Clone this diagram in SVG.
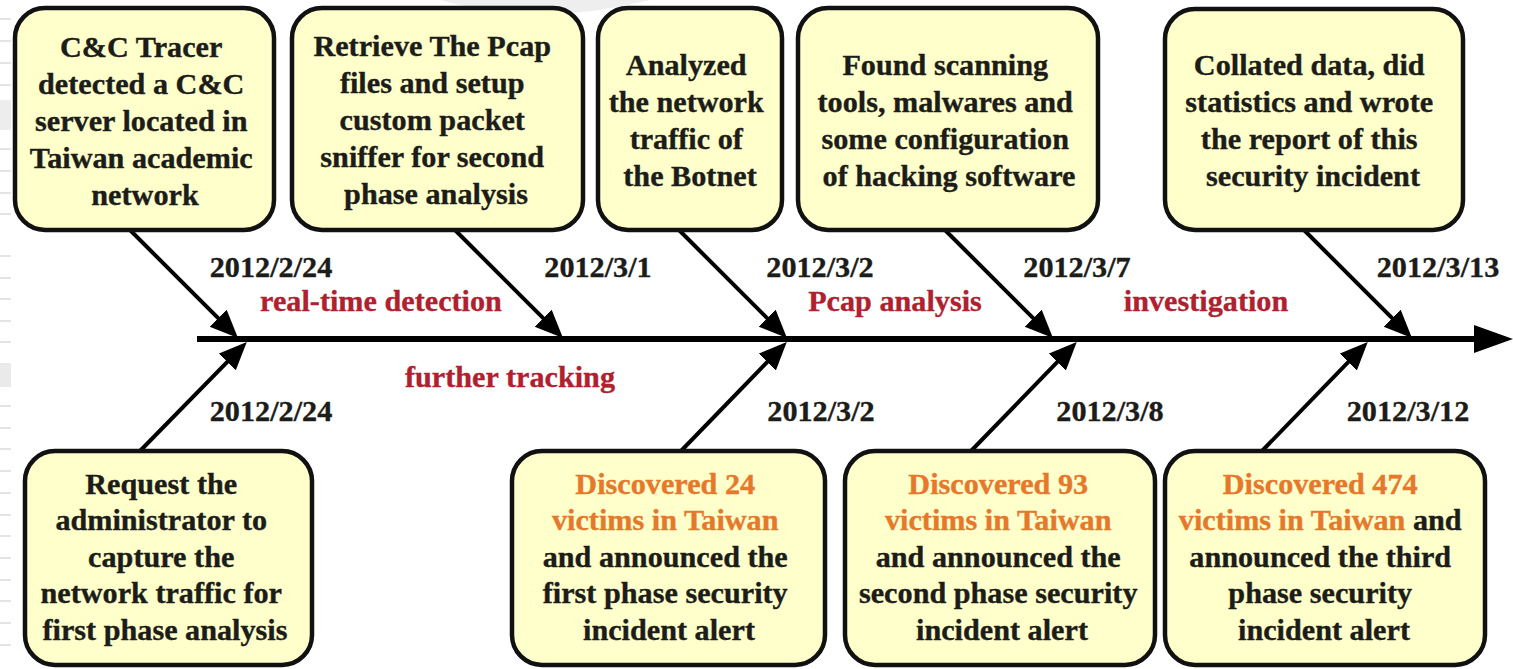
<svg xmlns="http://www.w3.org/2000/svg" width="1513" height="669" viewBox="0 0 1513 669">
  <style>
    .box { fill: #ffffcc; stroke: #111; stroke-width: 4.5; }
    .t { font-family: "Liberation Serif", "Times New Roman", serif; font-weight: bold; font-size: 28.5px; fill: #1c1c18; stroke: #1c1c18; stroke-width: 0.35; text-anchor: middle; }
    .o { fill: #e6782c; stroke: #e6782c; }
    .red { font-family: "Liberation Serif", "Times New Roman", serif; font-weight: bold; font-size: 28.5px; fill: #b0202e; stroke: #b0202e; stroke-width: 0.3; text-anchor: middle; }
    .date { font-family: "Liberation Serif", "Times New Roman", serif; font-weight: bold; font-size: 28.5px; fill: #1c1c18; stroke: #1c1c18; stroke-width: 0.35; text-anchor: middle; }
    .diag { stroke: #000; stroke-width: 4; fill: none; marker-end: url(#head); }
    .stripe { fill: #e4e4e4; }
  </style>
  <defs>
    <marker id="head" markerUnits="userSpaceOnUse" markerWidth="30" markerHeight="26" refX="18" refY="12" orient="auto">
      <path d="M0,0 L28,12 L0,24 z" fill="#000"/>
    </marker>
  </defs>

  <rect width="1513" height="669" fill="#fff"/>

  <!-- faint slide background at the left edge -->
  <g id="backdrop">
    <rect class="stripe" x="0" y="18" width="11" height="2"/>
    <rect class="stripe" x="0" y="40" width="11" height="2"/>
    <rect class="stripe" x="0" y="62" width="11" height="2"/>
    <rect class="stripe" x="0" y="84" width="11" height="2"/>
    <rect x="0" y="100" width="11" height="30" fill="#ededed"/>
    <rect class="stripe" x="0" y="148" width="11" height="2"/>
    <rect class="stripe" x="0" y="170" width="11" height="2"/>
    <rect class="stripe" x="0" y="192" width="11" height="2"/>
    <rect class="stripe" x="0" y="213" width="11" height="2"/>
    <rect class="stripe" x="0" y="255" width="11" height="2"/>
    <rect class="stripe" x="0" y="277" width="11" height="2"/>
    <rect class="stripe" x="0" y="298" width="11" height="2"/>
    <rect class="stripe" x="0" y="320" width="11" height="2"/>
    <rect class="stripe" x="0" y="341" width="11" height="2"/>
    <rect x="0" y="363" width="11" height="24" fill="#eaeaea"/>
    <rect class="stripe" x="0" y="405" width="11" height="2"/>
    <rect class="stripe" x="0" y="427" width="11" height="2"/>
    <rect class="stripe" x="0" y="448" width="11" height="2"/>
    <rect class="stripe" x="0" y="470" width="11" height="2"/>
    <rect class="stripe" x="0" y="492" width="11" height="2"/>
    <rect class="stripe" x="0" y="514" width="11" height="2"/>
    <rect class="stripe" x="0" y="535" width="11" height="2"/>
    <rect class="stripe" x="0" y="557" width="11" height="2"/>
    <rect class="stripe" x="0" y="579" width="11" height="2"/>
    <rect class="stripe" x="0" y="600" width="11" height="2"/>
    <rect class="stripe" x="0" y="622" width="11" height="2"/>
    <rect class="stripe" x="0" y="644" width="11" height="2"/>
    <path d="M440,0 Q540,28 650,0 Z" fill="#eeeeee"/>
  </g>

  <!-- timeline and connectors -->
  <g id="connectors">
    <line x1="197" y1="339" x2="1480" y2="339" stroke="#000" stroke-width="6"/>
    <polygon points="1474,325 1513,339 1474,353" fill="#000"/>

    <line class="diag" x1="130" y1="230" x2="230.9" y2="330.9"/>
    <line class="diag" x1="455" y1="230" x2="555.9" y2="330.9"/>
    <line class="diag" x1="679" y1="230" x2="779.9" y2="330.9"/>
    <line class="diag" x1="945" y1="230" x2="1045.9" y2="330.9"/>
    <line class="diag" x1="1304" y1="230" x2="1404.9" y2="330.9"/>

    <line class="diag" x1="140" y1="451" x2="239.8" y2="349.1"/>
    <line class="diag" x1="681" y1="451" x2="779.8" y2="349.1"/>
    <line class="diag" x1="971" y1="451" x2="1069.8" y2="349.1"/>
    <line class="diag" x1="1262" y1="451" x2="1360.8" y2="349.1"/>
  </g>

  <!-- dates -->
  <g id="dates">
    <text class="date" transform="translate(271 277) scale(1.06 1)">2012/2/24</text>
    <text class="date" transform="translate(598 277) scale(1.06 1)">2012/3/1</text>
    <text class="date" transform="translate(820 277) scale(1.06 1)">2012/3/2</text>
    <text class="date" transform="translate(1077 277) scale(1.06 1)">2012/3/7</text>
    <text class="date" transform="translate(1438 277) scale(1.06 1)">2012/3/13</text>
    <text class="date" transform="translate(271 421) scale(1.06 1)">2012/2/24</text>
    <text class="date" transform="translate(821 421) scale(1.06 1)">2012/3/2</text>
    <text class="date" transform="translate(1110 421) scale(1.06 1)">2012/3/8</text>
    <text class="date" transform="translate(1408 421) scale(1.06 1)">2012/3/12</text>
  </g>

  <!-- phase labels -->
  <g id="phases">
    <text class="red" transform="translate(381 311) scale(1.06 1)">real-time detection</text>
    <text class="red" transform="translate(510 387) scale(1.06 1)">further tracking</text>
    <text class="red" transform="translate(895 311) scale(1.06 1)">Pcap analysis</text>
    <text class="red" transform="translate(1206 311) scale(1.06 1)">investigation</text>
  </g>

  <!-- upper events -->
  <g id="n1">
    <rect class="box" x="15" y="8" width="259" height="222" rx="30"/>
    <text class="t" transform="translate(145 0) scale(1.06 1)">
      <tspan x="0" y="57">C&amp;C Tracer</tspan>
      <tspan x="0" y="94">detected a C&amp;C</tspan>
      <tspan x="0" y="131">server located in</tspan>
      <tspan x="0" y="168">Taiwan academic</tspan>
      <tspan x="0" y="205">network</tspan>
    </text>
  </g>
  <g id="n2">
    <rect class="box" x="292" y="8" width="291" height="222" rx="30"/>
    <text class="t" transform="translate(436 0) scale(1.06 1)">
      <tspan x="0" y="56">Retrieve The Pcap</tspan>
      <tspan x="0" y="93">files and setup</tspan>
      <tspan x="0" y="130">custom packet</tspan>
      <tspan x="0" y="167">sniffer for second</tspan>
      <tspan x="0" y="204">phase analysis</tspan>
    </text>
  </g>
  <g id="n3">
    <rect class="box" x="598" y="8" width="184" height="222" rx="30"/>
    <text class="t" transform="translate(690 0) scale(1.06 1)">
      <tspan x="0" y="75">Analyzed</tspan>
      <tspan x="0" y="112">the network</tspan>
      <tspan x="0" y="149">traffic of</tspan>
      <tspan x="0" y="186">the Botnet</tspan>
    </text>
  </g>
  <g id="n4">
    <rect class="box" x="798" y="8" width="300" height="222" rx="30"/>
    <text class="t" transform="translate(949 0) scale(1.06 1)">
      <tspan x="0" y="75">Found scanning</tspan>
      <tspan x="0" y="112">tools, malwares and</tspan>
      <tspan x="0" y="149">some configuration</tspan>
      <tspan x="0" y="186">of hacking software</tspan>
    </text>
  </g>
  <g id="n5">
    <rect class="box" x="1165" y="9" width="298" height="221" rx="30"/>
    <text class="t" transform="translate(1313 0) scale(1.06 1)">
      <tspan x="0" y="75">Collated data, did</tspan>
      <tspan x="0" y="112">statistics and wrote</tspan>
      <tspan x="0" y="149">the report of this</tspan>
      <tspan x="0" y="186">security incident</tspan>
    </text>
  </g>

  <!-- lower events -->
  <g id="n6">
    <rect class="box" x="25" y="451" width="287" height="214" rx="30"/>
    <text class="t" transform="translate(165 0) scale(1.06 1)">
      <tspan x="0" y="494">Request the</tspan>
      <tspan x="0" y="530.5">administrator to</tspan>
      <tspan x="0" y="567">capture the</tspan>
      <tspan x="0" y="603.5">network traffic for</tspan>
      <tspan x="0" y="640">first phase analysis</tspan>
    </text>
  </g>
  <g id="n7">
    <rect class="box" x="512" y="451" width="313" height="214" rx="30"/>
    <text class="t" transform="translate(669 0) scale(1.06 1)">
      <tspan x="0" y="494" class="o">Discovered 24</tspan>
      <tspan x="0" y="530.5" class="o">victims in Taiwan</tspan>
      <tspan x="0" y="567">and announced the</tspan>
      <tspan x="0" y="603.5">first phase security</tspan>
      <tspan x="0" y="640">incident alert</tspan>
    </text>
  </g>
  <g id="n8">
    <rect class="box" x="845" y="451" width="310" height="214" rx="30"/>
    <text class="t" transform="translate(1002 0) scale(1.06 1)">
      <tspan x="0" y="494" class="o">Discovered 93</tspan>
      <tspan x="0" y="530.5" class="o">victims in Taiwan</tspan>
      <tspan x="0" y="567">and announced the</tspan>
      <tspan x="0" y="603.5">second phase security</tspan>
      <tspan x="0" y="640">incident alert</tspan>
    </text>
  </g>
  <g id="n9">
    <rect class="box" x="1165" y="451" width="320" height="214" rx="30"/>
    <text class="t" transform="translate(1324 0) scale(1.06 1)">
      <tspan x="0" y="494" class="o">Discovered 474</tspan>
      <tspan x="0" y="530.5"><tspan class="o">victims in Taiwan</tspan> and</tspan>
      <tspan x="0" y="567">announced the third</tspan>
      <tspan x="0" y="603.5">phase security</tspan>
      <tspan x="0" y="640">incident alert</tspan>
    </text>
  </g>
</svg>
